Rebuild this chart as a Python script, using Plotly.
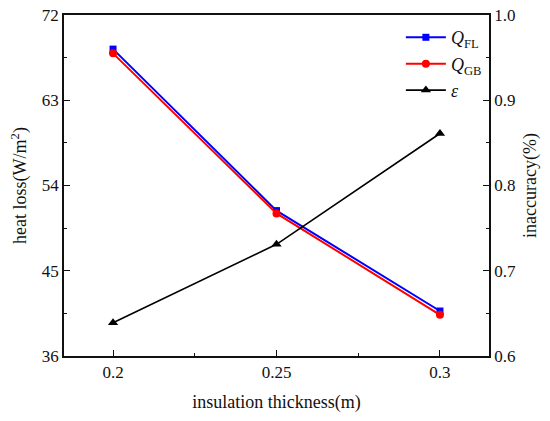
import plotly.graph_objects as go

# insulation thickness (m)
thickness = [0.2, 0.25, 0.3]

# heat loss (W/m^2)
q_fl = [68.4, 51.35, 40.75]
q_gb = [67.95, 51.05, 40.35]

# inaccuracy (%)
eps = [0.639, 0.731, 0.861]

font = "Liberation Serif, Times New Roman, serif"
ink = "#111111"

fig = go.Figure()

fig.add_trace(go.Scatter(
    x=thickness, y=q_fl, name="<i>Q</i><sub>FL</sub>",
    mode="lines+markers",
    line=dict(color="#0000ff", width=2),
    marker=dict(symbol="square", size=7, color="#0000ff"),
))
fig.add_trace(go.Scatter(
    x=thickness, y=q_gb, name="<i>Q</i><sub>GB</sub>",
    mode="lines+markers",
    line=dict(color="#ff0000", width=2),
    marker=dict(symbol="circle", size=8, color="#ff0000"),
))
fig.add_trace(go.Scatter(
    x=thickness, y=eps, name="<i>ε</i>", yaxis="y2",
    mode="lines+markers",
    line=dict(color="#000000", width=1.6),
    marker=dict(symbol="triangle-up", size=9, color="#000000"),
))

tick_font = dict(family=font, size=17, color=ink)

fig.update_layout(
    width=550, height=421,
    margin=dict(l=64, r=61, t=15, b=65),
    paper_bgcolor="white", plot_bgcolor="white",
    font=dict(family=font, size=15, color=ink),
    showlegend=True,
    legend=dict(
        x=0.995, y=0.988, xanchor="right", yanchor="top",
        bgcolor="rgba(0,0,0,0)", font=dict(size=18),
        tracegroupgap=0, itemwidth=40,
    ),
    xaxis=dict(
        range=[0.185, 0.315],
        tickvals=[0.2, 0.25, 0.3], ticktext=["0.2", "0.25", "0.3"],
        tickfont=tick_font, ticklabeloverflow="allow",
        ticks="inside", ticklen=6, tickwidth=1.3, tickcolor=ink,
        minor=dict(ticks="inside", ticklen=3, tickvals=[0.225, 0.275], tickcolor=ink),
        showline=True, linecolor=ink, linewidth=1.6, mirror=True,
        showgrid=False, zeroline=False, automargin=False,
        title=dict(text="insulation thickness(m)", standoff=14),
    ),
    yaxis=dict(
        range=[36, 72], tickvals=[36, 45, 54, 63, 72],
        tickfont=tick_font, ticklabeloverflow="allow",
        ticks="inside", ticklen=6, tickwidth=1.3, tickcolor=ink,
        minor=dict(ticks="inside", ticklen=3, dtick=4.5, tickcolor=ink),
        showline=True, linecolor=ink, linewidth=1.6,
        showgrid=False, zeroline=False, automargin=False,
        title=dict(text="heat loss(W/m<sup>2</sup>)", standoff=10),
    ),
    yaxis2=dict(
        range=[0.6, 1.0], tickvals=[0.6, 0.7, 0.8, 0.9, 1.0],
        ticktext=["0.6", "0.7", "0.8", "0.9", "1.0"],
        tickfont=tick_font, ticklabeloverflow="allow",
        overlaying="y", side="right",
        ticks="inside", ticklen=6, tickwidth=1.3, tickcolor=ink,
        minor=dict(ticks="inside", ticklen=3, dtick=0.05, tickcolor=ink),
        showline=True, linecolor=ink, linewidth=1.6,
        showgrid=False, zeroline=False, automargin=False,
        title=dict(text="inaccuracy(%)", standoff=8),
    ),
)

# drop the default 8px page margin so the figure fills the window
fig.write_html(
    "out.html",
    config={"displayModeBar": False},
    post_script="document.body.style.margin = '0';",
)
